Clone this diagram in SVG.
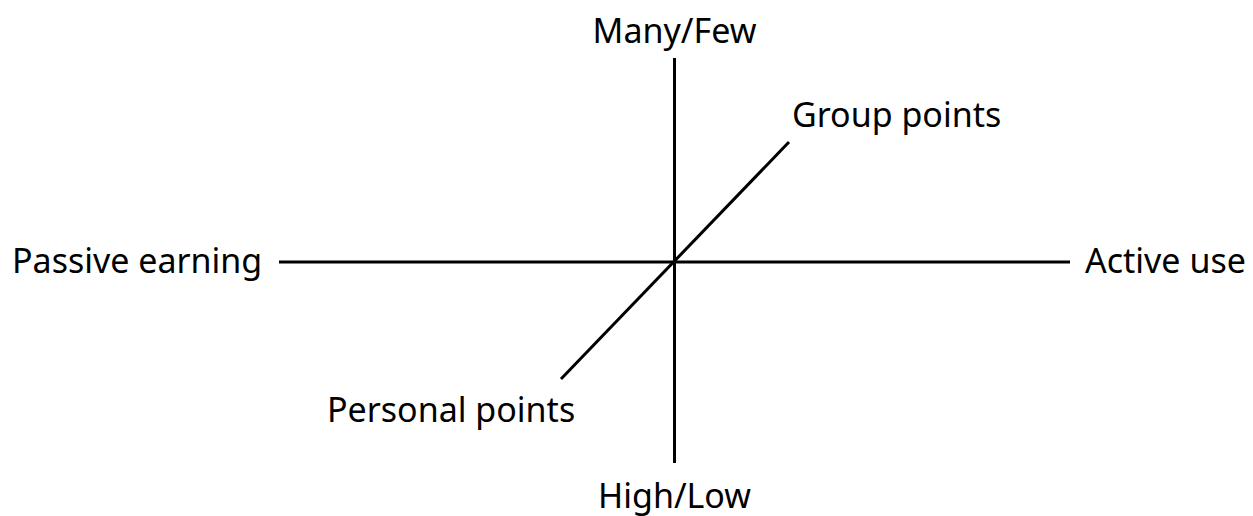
<svg xmlns="http://www.w3.org/2000/svg" width="1253" height="516" viewBox="0 0 1253 516">
<style>
text{font-family:"Noto Sans","Open Sans","DejaVu Sans",sans-serif;font-size:34px;fill:#000}
.ax{stroke:#000;stroke-width:3;fill:none}
</style>
<rect width="1253" height="516" fill="#fff"/>
<g id="connectors">
<line class="ax" x1="674.5" y1="58" x2="674.5" y2="463"/>
<line class="ax" x1="279" y1="262" x2="1070" y2="262"/>
<line class="ax" x1="561" y1="379" x2="789" y2="142"/>
</g>
<g id="many-few"><text x="674.5" y="43" text-anchor="middle">Many/Few</text></g>
<g id="high-low"><text x="674.5" y="508" text-anchor="middle">High/Low</text></g>
<g id="passive-earning"><text x="12" y="273">Passive earning</text></g>
<g id="active-use"><text x="1085" y="273">Active use</text></g>
<g id="group-points"><text x="792" y="127">Group points</text></g>
<g id="personal-points"><text x="327" y="422">Personal points</text></g>
</svg>
